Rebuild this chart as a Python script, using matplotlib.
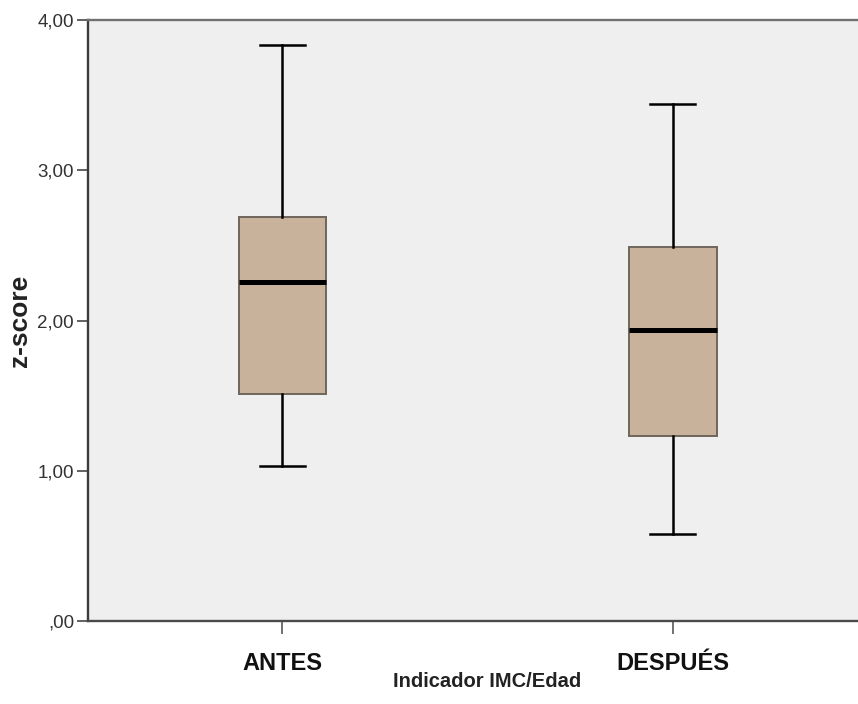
import matplotlib
matplotlib.use("Agg")
import matplotlib.pyplot as plt

# group labels and box statistics
groups = ["ANTES", "DESPUÉS"]
whislo = [1.03, 0.58]
q1 = [1.51, 1.23]
med = [2.255, 1.935]
q3 = [2.69, 2.49]
whishi = [3.835, 3.443]

yticks = [0, 1, 2, 3, 4]
ytick_labels = [",00", "1,00", "2,00", "3,00", "4,00"]

plt.rcParams["font.family"] = ["Liberation Sans", "DejaVu Sans"]

stats = []
for i, g in enumerate(groups):
    stats.append({"label": g, "whislo": whislo[i], "q1": q1[i], "med": med[i],
                  "q3": q3[i], "whishi": whishi[i], "fliers": []})

fig = plt.figure(figsize=(8.58, 7.04), dpi=100)
ax = fig.add_axes([88 / 858, 83 / 704, 770 / 858, 601 / 704])
ax.set_facecolor("#efefef")

ax.bxp(stats, positions=[1, 2], widths=0.224, patch_artist=True,
       showfliers=False,
       boxprops=dict(facecolor="#c9b29b", edgecolor="#6e655c", linewidth=1.4),
       medianprops=dict(color="black", linewidth=3.6, solid_capstyle="butt"),
       whiskerprops=dict(color="black", linewidth=1.8),
       capprops=dict(color="black", linewidth=1.8),
       capwidths=0.115)

ax.set_xlim(0.502, 2.474)
ax.set_ylim(0, 4)

ax.set_yticks(yticks)
ax.set_yticklabels(ytick_labels, fontsize=13.5, color="#333333")
ax.set_xticks([1, 2])
ax.set_xticklabels(groups, fontsize=17, fontweight="bold", color="#111111")
ax.tick_params(axis="y", length=8, width=1.3, color="#555555", pad=2)
ax.tick_params(axis="x", length=9, width=1.3, color="#666666", pad=13)

for side in ["left", "bottom", "top"]:
    ax.spines[side].set_linewidth(1.7)
ax.spines["left"].set_color("#3c3c3c")
ax.spines["bottom"].set_color("#4a4a4a")
ax.spines["top"].set_color("#707070")
ax.spines["right"].set_visible(False)

ax.set_xlabel("Indicador IMC/Edad", fontsize=14.5, fontweight="bold", color="#222222")
ax.xaxis.set_label_coords(0.518, -(687 - 621) / 601)
ax.xaxis.label.set_va("baseline")

ax.set_ylabel("z-score", fontsize=19, fontweight="bold", color="#222222")
ax.yaxis.set_label_coords(-0.088, 0.5)
ax.yaxis.label.set_va("center")

fig.savefig("out.png", dpi=100)
